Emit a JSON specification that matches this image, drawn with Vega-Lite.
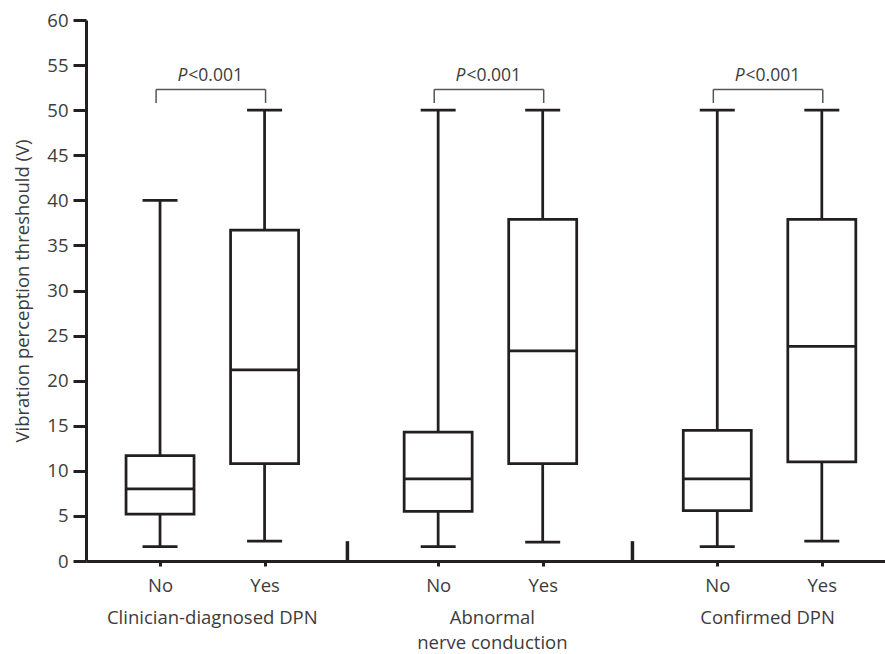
{
  "$schema": "https://vega.github.io/schema/vega-lite/v6.json",
  "autosize": {"type": "none"},
  "padding": {"left": 86, "top": 20, "right": 0, "bottom": 93},
  "width": 799,
  "height": 541,
  "config": {
    "font": "Open Sans",
    "view": {"stroke": null},
    "axis": {"grid": false}
  },
  "datasets": {
    "boxes": [
      {"group": "Clinician-diagnosed DPN", "cat": "No", "x": 0.70, "min": 1.6, "q1": 5.2, "median": 8.0, "q3": 11.7, "max": 40},
      {"group": "Clinician-diagnosed DPN", "cat": "Yes", "x": 1.76, "min": 2.2, "q1": 10.8, "median": 21.2, "q3": 36.7, "max": 50},
      {"group": "Abnormal nerve conduction", "cat": "No", "x": 3.52, "min": 1.6, "q1": 5.5, "median": 9.1, "q3": 14.3, "max": 50},
      {"group": "Abnormal nerve conduction", "cat": "Yes", "x": 4.58, "min": 2.1, "q1": 10.8, "median": 23.3, "q3": 37.9, "max": 50},
      {"group": "Confirmed DPN", "cat": "No", "x": 6.35, "min": 1.6, "q1": 5.6, "median": 9.1, "q3": 14.5, "max": 50},
      {"group": "Confirmed DPN", "cat": "Yes", "x": 7.41, "min": 2.2, "q1": 11.0, "median": 23.8, "q3": 37.9, "max": 50}
    ],
    "separators": [
      {"x": 2.60, "bottom": 0, "top": 2.2},
      {"x": 5.49, "bottom": 0, "top": 2.2}
    ],
    "brackets": [
      {"x1": 0.66, "x2": 1.77, "xc": 1.23, "y": 52.3, "ylow": 50.8, "ytext": 53.8},
      {"x1": 3.48, "x2": 4.59, "xc": 4.05, "y": 52.3, "ylow": 50.8, "ytext": 53.8},
      {"x1": 6.31, "x2": 7.42, "xc": 6.88, "y": 52.3, "ylow": 50.8, "ytext": 53.8}
    ],
    "titles": [
      {"x": 1.23, "label": "Clinician-diagnosed DPN"},
      {"x": 4.07, "label": "Abnormal\nnerve conduction"},
      {"x": 6.86, "label": "Confirmed DPN"}
    ]
  },
  "layer": [
    {
      "data": {"name": "boxes"},
      "mark": {"type": "rule", "stroke": "#231f20", "strokeWidth": 2.75},
      "encoding": {
        "x": {
          "field": "x", "type": "quantitative",
          "scale": {"domain": [0, 8], "nice": false, "zero": false},
          "axis": {
            "title": null,
            "values": [0.70, 1.76, 3.52, 4.58, 6.35, 7.41],
            "labelExpr": "datum.value == 0.7 || datum.value == 3.52 || datum.value == 6.35 ? 'No' : 'Yes'",
            "domainColor": "#231f20", "domainWidth": 3,
            "tickColor": "#231f20", "tickWidth": 3, "tickSize": 5,
            "labelFontSize": 18.5, "labelColor": "#3c3c3c", "labelPadding": 10
          }
        },
        "y": {
          "field": "min", "type": "quantitative",
          "scale": {"domain": [0, 60], "nice": false},
          "axis": {
            "title": "Vibration perception threshould (V)",
            "titleFontSize": 18.5, "titleFontWeight": "normal", "titleColor": "#3c3c3c", "titlePadding": 14,
            "values": [0, 5, 10, 15, 20, 25, 30, 35, 40, 45, 50, 55, 60],
            "domainColor": "#231f20", "domainWidth": 3,
            "tickColor": "#231f20", "tickWidth": 3, "tickSize": 13,
            "labelFontSize": 18.5, "labelColor": "#3c3c3c", "labelPadding": 5
          }
        },
        "y2": {"field": "max"}
      }
    },
    {
      "data": {"name": "boxes"},
      "mark": {"type": "bar", "size": 68, "fill": "white", "stroke": "#231f20", "strokeWidth": 2.75},
      "encoding": {
        "x": {"field": "x", "type": "quantitative"},
        "y": {"field": "q1", "type": "quantitative"},
        "y2": {"field": "q3"}
      }
    },
    {
      "data": {"name": "boxes"},
      "mark": {"type": "tick", "orient": "horizontal", "size": 68, "thickness": 2.75, "color": "#231f20", "opacity": 1},
      "encoding": {
        "x": {"field": "x", "type": "quantitative"},
        "y": {"field": "median", "type": "quantitative"}
      }
    },
    {
      "data": {"name": "boxes"},
      "mark": {"type": "tick", "orient": "horizontal", "size": 35, "thickness": 2.75, "color": "#231f20", "opacity": 1},
      "encoding": {
        "x": {"field": "x", "type": "quantitative"},
        "y": {"field": "max", "type": "quantitative"}
      }
    },
    {
      "data": {"name": "boxes"},
      "mark": {"type": "tick", "orient": "horizontal", "size": 35, "thickness": 2.75, "color": "#231f20", "opacity": 1},
      "encoding": {
        "x": {"field": "x", "type": "quantitative"},
        "y": {"field": "min", "type": "quantitative"}
      }
    },
    {
      "data": {"name": "separators"},
      "mark": {"type": "rule", "stroke": "#231f20", "strokeWidth": 3.5},
      "encoding": {
        "x": {"field": "x", "type": "quantitative"},
        "y": {"field": "bottom", "type": "quantitative"},
        "y2": {"field": "top"}
      }
    },
    {
      "data": {"name": "brackets"},
      "mark": {"type": "rule", "stroke": "#555555", "strokeWidth": 1.5},
      "encoding": {
        "x": {"field": "x1", "type": "quantitative"},
        "x2": {"field": "x2"},
        "y": {"field": "y", "type": "quantitative"}
      }
    },
    {
      "data": {"name": "brackets"},
      "mark": {"type": "rule", "stroke": "#555555", "strokeWidth": 1.5},
      "encoding": {
        "x": {"field": "x1", "type": "quantitative"},
        "y": {"field": "ylow", "type": "quantitative"},
        "y2": {"field": "y"}
      }
    },
    {
      "data": {"name": "brackets"},
      "mark": {"type": "rule", "stroke": "#555555", "strokeWidth": 1.5},
      "encoding": {
        "x": {"field": "x2", "type": "quantitative"},
        "y": {"field": "ylow", "type": "quantitative"},
        "y2": {"field": "y"}
      }
    },
    {
      "data": {"name": "brackets"},
      "mark": {"type": "text", "text": "P", "fontStyle": "italic", "fontSize": 17.5, "color": "#3c3c3c", "align": "right", "baseline": "middle", "dx": -25},
      "encoding": {
        "x": {"field": "xc", "type": "quantitative"},
        "y": {"field": "ytext", "type": "quantitative"}
      }
    },
    {
      "data": {"name": "brackets"},
      "mark": {"type": "text", "text": "<0.001", "fontSize": 17.5, "color": "#3c3c3c", "align": "left", "baseline": "middle", "dx": -24},
      "encoding": {
        "x": {"field": "xc", "type": "quantitative"},
        "y": {"field": "ytext", "type": "quantitative"}
      }
    },
    {
      "data": {"name": "titles"},
      "mark": {"type": "text", "fontSize": 18.5, "color": "#3c3c3c", "align": "center", "baseline": "top", "lineBreak": "\n", "lineHeight": 25, "dy": 48},
      "encoding": {
        "x": {"field": "x", "type": "quantitative"},
        "y": {"datum": 0, "type": "quantitative"},
        "text": {"field": "label"}
      }
    }
  ]
}
